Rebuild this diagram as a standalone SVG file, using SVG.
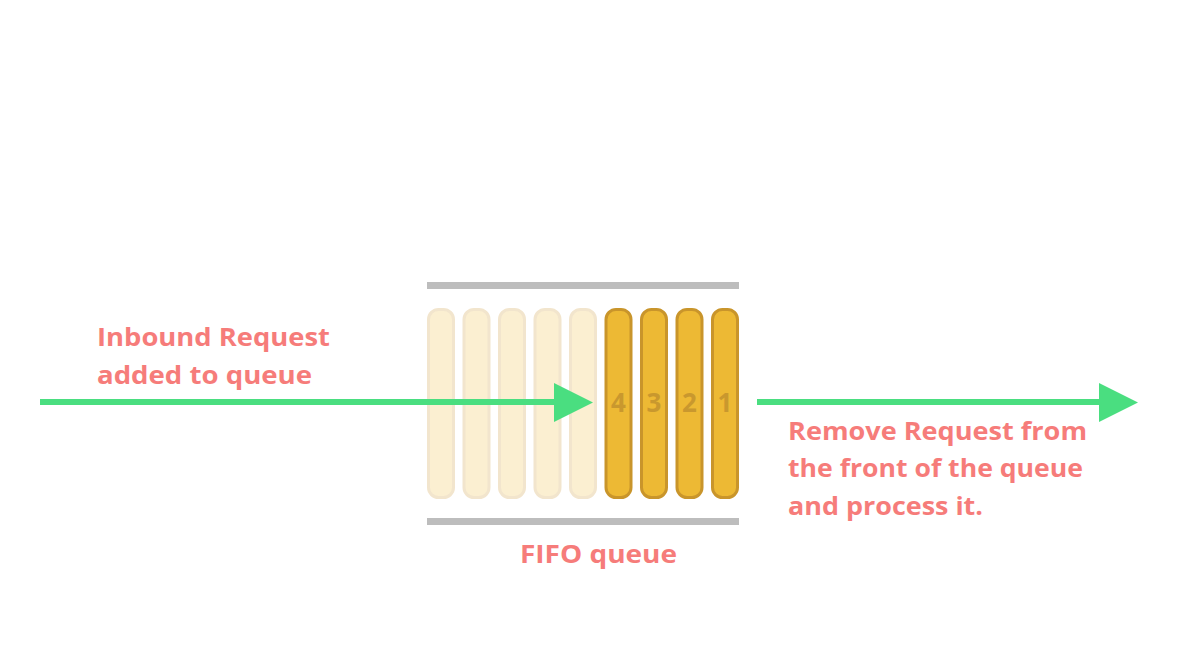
<svg xmlns="http://www.w3.org/2000/svg" width="1198" height="664" viewBox="0 0 1198 664">
<style>
.bar{fill:#BDBDBD}
.pale{fill:#FBEFD1;stroke:#F2E5CD;stroke-width:3}
.full{fill:#EDB934;stroke:#C9952B;stroke-width:3}
.num{font-family:"Open Sans",Lato,sans-serif;font-weight:700;font-size:26px;fill:#C9982E;text-anchor:middle}
.lbl{font-family:"Open Sans",Lato,sans-serif;font-weight:700;font-size:25px;fill:#F67C7A}
.arrow{stroke:#4ADE80;stroke-width:6;fill:none}
.head{fill:#4ADE80}
</style>
<rect width="1198" height="664" fill="#FFFFFF"/>
<g id="queue">
<rect class="bar" x="427" y="282" width="312" height="7"/>
<rect class="bar" x="427" y="518" width="312" height="7"/>
<g id="slot-empty-1"><rect class="pale" x="428.5" y="309.5" width="25" height="188" rx="10"/></g>
<g id="slot-empty-2"><rect class="pale" x="464" y="309.5" width="25" height="188" rx="10"/></g>
<g id="slot-empty-3"><rect class="pale" x="499.5" y="309.5" width="25" height="188" rx="10"/></g>
<g id="slot-empty-4"><rect class="pale" x="535" y="309.5" width="25" height="188" rx="10"/></g>
<g id="slot-empty-5"><rect class="pale" x="570.5" y="309.5" width="25" height="188" rx="10"/></g>
<g id="item-4"><rect class="full" x="606" y="309.5" width="25" height="188" rx="10"/><text class="num" x="618.5" y="412">4</text></g>
<g id="item-3"><rect class="full" x="641.5" y="309.5" width="25" height="188" rx="10"/><text class="num" x="654" y="412">3</text></g>
<g id="item-2"><rect class="full" x="677" y="309.5" width="25" height="188" rx="10"/><text class="num" x="689.5" y="412">2</text></g>
<g id="item-1"><rect class="full" x="712.5" y="309.5" width="25" height="188" rx="10"/><text class="num" x="725" y="412">1</text></g>
<text id="queue-label" class="lbl" x="520" y="563" textLength="157" lengthAdjust="spacingAndGlyphs">FIFO queue</text>
</g>
<g id="connectors">
<line class="arrow" x1="40" y1="402" x2="556" y2="402"/>
<polygon class="head" points="554,383 593,402.5 554,422"/>
<line class="arrow" x1="757" y1="402" x2="1101" y2="402"/>
<polygon class="head" points="1099,383 1138,402.5 1099,422"/>
</g>
<g id="inbound-label">
<text class="lbl" x="97" y="345.5" textLength="233" lengthAdjust="spacingAndGlyphs">Inbound Request</text>
<text class="lbl" x="97" y="383.5" textLength="215" lengthAdjust="spacingAndGlyphs">added to queue</text>
</g>
<g id="remove-label">
<text class="lbl" x="788" y="439.5" textLength="299" lengthAdjust="spacingAndGlyphs">Remove Request from</text>
<text class="lbl" x="788" y="477" textLength="295" lengthAdjust="spacingAndGlyphs">the front of the queue</text>
<text class="lbl" x="788" y="514.5" textLength="195" lengthAdjust="spacingAndGlyphs">and process it.</text>
</g>
</svg>
